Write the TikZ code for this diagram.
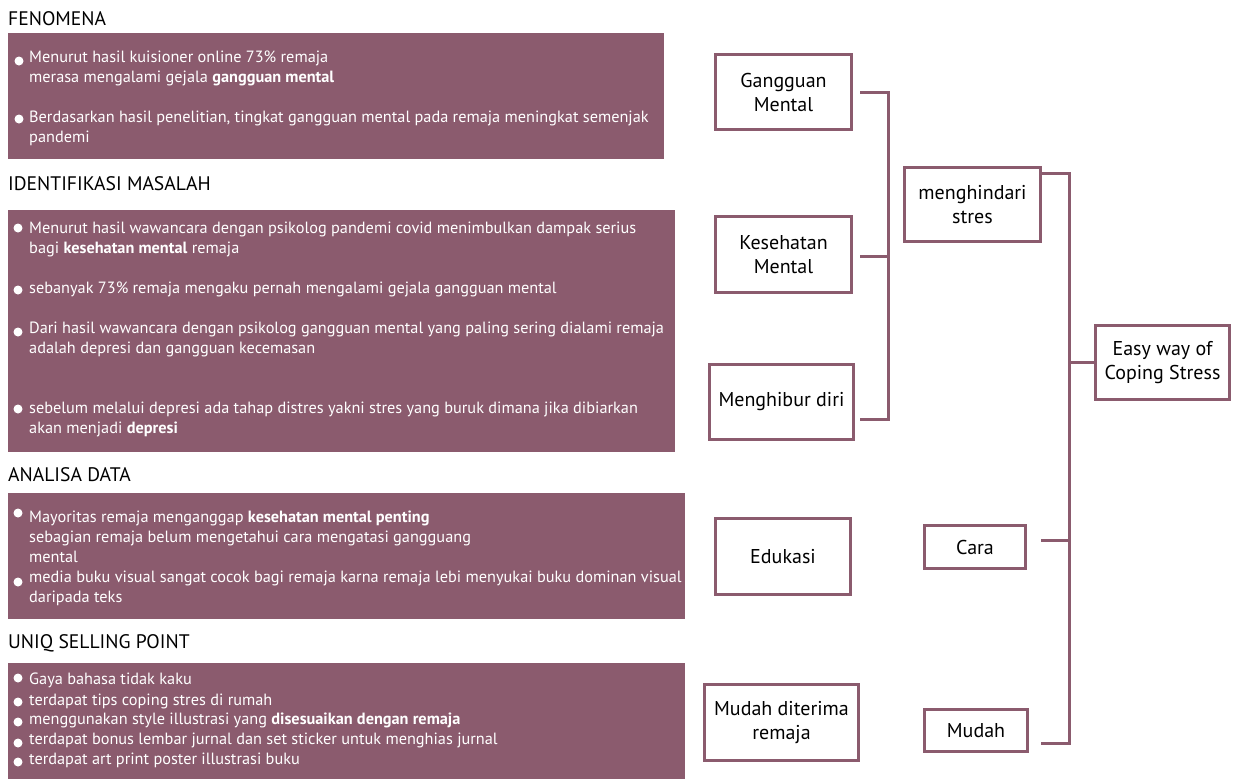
\documentclass[tikz,border=0pt]{standalone}
\usepackage{fontspec}
\setmainfont{PT Sans}
\definecolor{mauve}{HTML}{8B5B6E}
\begin{document}
\begin{tikzpicture}[x=1pt,y=-1pt,
 panel/.style={fill=mauve, draw=none},
 ptxt/.style={anchor=base west, inner sep=0pt, text=white, font=\fontsize{16.3}{19}\selectfont},
 ttl/.style={anchor=base west, inner sep=0pt, font=\fontsize{19.6}{22}\selectfont},
 box/.style={draw=mauve, line width=3pt, fill=white, align=center, inner sep=0pt, font=\fontsize{20}{24}\selectfont},
 conn/.style={draw=mauve, line width=3pt, line join=miter},
 bul/.style={fill=white}]
\useasboundingbox (0,0) rectangle (1233,779);
\fill[white] (0,0) rectangle (1233,779);

% ---------- left panels ----------
\node[ttl] (t1) at (8,25) {FENOMENA};
\fill[panel] (8,33) rectangle (664,159);
\fill[bul] (19,61) circle (4.5);
\fill[bul] (19,119) circle (4.5);
\node[ptxt] (a1) at (29,62) {Menurut hasil kuisioner online 73\% remaja};
\node[ptxt] (a2) at (29,82) {merasa mengalami gejala \textbf{gangguan mental}};
\node[ptxt] (a3) at (29,122) {Berdasarkan hasil penelitian, tingkat gangguan mental pada remaja meningkat semenjak};
\node[ptxt] (a4) at (29,142) {pandemi};

\node[ttl] (t2) at (8,190) {IDENTIFIKASI MASALAH};
\fill[panel] (8,210) rectangle (675,452);
\fill[bul] (18,228) circle (4.5);
\fill[bul] (18,290) circle (4.5);
\fill[bul] (18,332) circle (4.5);
\fill[bul] (18,409) circle (4.5);
\node[ptxt] (b1) at (29,233) {Menurut hasil wawancara dengan psikolog pandemi covid menimbulkan dampak serius};
\node[ptxt] (b2) at (29,253) {bagi \textbf{kesehatan mental} remaja};
\node[ptxt] (b3) at (29,293) {sebanyak 73\% remaja mengaku pernah mengalami gejala gangguan mental};
\node[ptxt] (b4) at (29,333) {Dari hasil wawancara dengan psikolog gangguan mental yang paling sering dialami remaja};
\node[ptxt] (b5) at (29,353) {adalah depresi dan gangguan kecemasan};
\node[ptxt] (b6) at (29,413) {sebelum melalui depresi ada tahap distres yakni stres yang buruk dimana jika dibiarkan};
\node[ptxt] (b7) at (29,433) {akan menjadi \textbf{depresi}};

\node[ttl] (t3) at (8,481) {ANALISA DATA};
\fill[panel] (8,493) rectangle (685,619);
\fill[bul] (18,513) circle (4.5);
\fill[bul] (18,582) circle (4.5);
\node[ptxt] (c1) at (29,522) {Mayoritas remaja menganggap \textbf{kesehatan mental penting}};
\node[ptxt] (c2) at (29,542) {sebagian remaja belum mengetahui cara mengatasi gangguang};
\node[ptxt] (c3) at (29,562) {mental};
\node[ptxt] (c4) at (29,582) {media buku visual sangat cocok bagi remaja karna remaja lebi menyukai buku dominan visual};
\node[ptxt] (c5) at (29,602) {daripada teks};

\node[ttl] (t4) at (8,648) {UNIQ SELLING POINT};
\fill[panel] (8,663) rectangle (685,779);
\fill[bul] (18,678) circle (4.5);
\fill[bul] (18,702) circle (4.5);
\fill[bul] (18,722) circle (4.5);
\fill[bul] (18,743) circle (4.5);
\fill[bul] (18,762) circle (4.5);
\node[ptxt] (d1) at (29,684) {Gaya bahasa tidak kaku};
\node[ptxt] (d2) at (29,705) {terdapat tips coping stres di rumah};
\node[ptxt] (d3) at (29,724) {menggunakan style illustrasi yang \textbf{disesuaikan dengan remaja}};
\node[ptxt] (d4) at (29,744) {terdapat bonus lembar jurnal dan set sticker untuk menghias jurnal};
\node[ptxt] (d5) at (29,764) {terdapat art print poster illustrasi buku};

% ---------- right boxes ----------
\node[box, minimum width=136pt, minimum height=75pt] (gm) at (783.5,92) {Gangguan\\Mental};
\node[box, minimum width=136pt, minimum height=76pt] (km) at (783.5,254.5) {Kesehatan\\Mental};
\node[box, minimum width=144pt, minimum height=75pt] (mh) at (781.5,402) {Menghibur diri};
\node[box, minimum width=135pt, minimum height=76pt] (ed) at (783,556.5) {Edukasi};
\node[box, minimum width=154pt, minimum height=76pt] (mr) at (781.5,722.5) {Mudah diterima\\remaja};
\node[box, minimum width=136pt, minimum height=74pt] (ms) at (972.5,204.5) {menghindari\\stres};
\node[box, minimum width=134pt, minimum height=74pt] (ew) at (1162.5,362.5) {Easy way of\\Coping Stress};
\node[box, minimum width=101pt, minimum height=43pt] (ca) at (975,547) {Cara};
\node[box, minimum width=103pt, minimum height=42pt] (mu) at (976,730.5) {Mudah};

% ---------- connectors ----------
\coordinate (s1t) at (888,92);
\coordinate (s1b) at (888,419);
\draw[conn] ([shift={(7,0)}]gm.east) -- (s1t) -- (s1b) -- ([shift={(5,17)}]mh.east);
\draw[conn] ([shift={(7,1.5)}]km.east) -- (s1t |- 0,256);

\coordinate (s2t) at (1069,173);
\coordinate (s2b) at (1069,743);
\draw[conn] ([shift={(0,-31.5)}]ms.east) -- (s2t) -- (s2b) -- ([shift={(12,12.5)}]mu.east);
\draw[conn] (s2t |- ew.west) -- (ew.west);
\draw[conn] ([shift={(14,-7)}]ca.east) -- (s2t |- 0,540);
\end{tikzpicture}
\end{document}
